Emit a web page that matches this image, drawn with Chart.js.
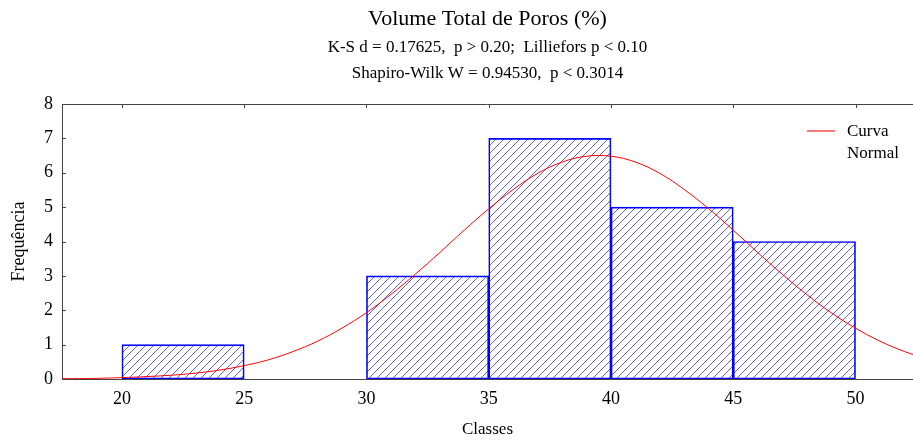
<!DOCTYPE html>
<html>
<head>
<meta charset="utf-8">
<style>
  html, body { margin: 0; padding: 0; background: #fff; }
  #wrap { width: 913px; height: 441px; }
</style>
<script src="https://cdn.jsdelivr.net/npm/chart.js@4/dist/chart.umd.min.js"></script>
</head>
<body>
<div id="wrap"><canvas id="c" width="913" height="441"></canvas></div>
<script>
// Histogram classes (bin centres, width 5) and observed counts
const binCenters = [22.5, 27.5, 32.5, 37.5, 42.5, 47.5];
const frequencies = [1, 0, 3, 7, 5, 4];

// Fitted normal curve, sampled at whole class values
const curveX = [17, 18, 19, 20, 21, 22, 23, 24, 25, 26, 27, 28, 29, 30, 31, 32, 33, 34, 35,
                36, 37, 38, 39, 40, 41, 42, 43, 44, 45, 46, 47, 48, 49, 50, 51, 52, 53];
const curveY = [0.01, 0.01, 0.02, 0.04, 0.07, 0.11, 0.17, 0.26, 0.39, 0.56, 0.80, 1.10, 1.48, 1.93, 2.46, 3.05, 3.68, 4.33, 4.95,
                5.51, 5.98, 6.31, 6.48, 6.48, 6.31, 5.98, 5.51, 4.95, 4.33, 3.68, 3.05, 2.46, 1.93, 1.48, 1.10, 0.80, 0.56];

// Axis ticks
const xTicks = [20, 25, 30, 35, 40, 45, 50];
const yTicks = [0, 1, 2, 3, 4, 5, 6, 7, 8];

// Text
const titleText = 'Volume Total de Poros (%)';
const subtitleLines = ['K-S d = 0.17625,  p > 0.20;  Lilliefors p < 0.10',
                       'Shapiro-Wilk W = 0.94530,  p < 0.3014'];
const legendLines = ['Curva', 'Normal'];
const xTitle = 'Classes';
const yTitle = 'Frequência';

const SERIF = '"Liberation Serif", "Times New Roman", serif';
const HATCH_STEP = 8;

// Diagonal hatching inside each histogram bar, drawn before the bar outlines
const hatching = {
  id: 'hatching',
  beforeDatasetDraw(chart, args) {
    if (args.meta.type !== 'bar') return;
    const ctx = chart.ctx;
    ctx.save();
    ctx.strokeStyle = '#6464ff';
    ctx.lineWidth = 1;
    args.meta.data.forEach(bar => {
      const p = bar.getProps(['x', 'y', 'base', 'width'], true);
      const left = p.x - p.width / 2, right = p.x + p.width / 2;
      const top = Math.min(p.y, p.base), bottom = Math.max(p.y, p.base);
      const h = bottom - top;
      if (h < 1) return;
      ctx.save();
      ctx.beginPath();
      ctx.rect(left, top, right - left, h);
      ctx.clip();
      ctx.beginPath();
      const start = Math.floor((left - h) / HATCH_STEP) * HATCH_STEP;
      for (let k = start; k <= right; k += HATCH_STEP) {
        ctx.moveTo(k, bottom);
        ctx.lineTo(k + h, top);
      }
      ctx.stroke();
      ctx.restore();
    });
    ctx.restore();
  }
};

// Title block, legend, top frame line and inner tick marks
const decorations = {
  id: 'decorations',
  afterDraw(chart) {
    const { ctx, chartArea: a, scales } = chart;
    const cx = (a.left + a.right) / 2;
    ctx.save();
    ctx.fillStyle = '#000';
    ctx.textAlign = 'center';
    ctx.textBaseline = 'middle';
    ctx.font = '22px ' + SERIF;
    ctx.fillText(titleText, cx, 19);
    ctx.font = '17px ' + SERIF;
    ctx.fillText(subtitleLines[0], cx, 48);
    ctx.fillText(subtitleLines[1], cx, 74);

    // frame top line
    ctx.strokeStyle = '#444';
    ctx.lineWidth = 1;
    ctx.beginPath();
    ctx.moveTo(a.left, a.top + 0.5);
    ctx.lineTo(a.right, a.top + 0.5);
    // inner ticks on the y axis
    yTicks.forEach(v => {
      const y = Math.round(scales.y.getPixelForValue(v)) + 0.5;
      ctx.moveTo(a.left, y);
      ctx.lineTo(a.left + 4, y);
    });
    // inner ticks along the top edge
    xTicks.forEach(v => {
      const x = Math.round(scales.x.getPixelForValue(v)) + 0.5;
      ctx.moveTo(x, a.top);
      ctx.lineTo(x, a.top + 4);
    });
    ctx.stroke();

    // legend
    ctx.strokeStyle = '#ff2020';
    ctx.lineWidth = 1.2;
    ctx.beginPath();
    ctx.moveTo(807, 131);
    ctx.lineTo(835, 131);
    ctx.stroke();
    ctx.textAlign = 'left';
    ctx.font = '17px ' + SERIF;
    ctx.fillText(legendLines[0], 847, 132);
    ctx.fillText(legendLines[1], 847, 154);
    ctx.restore();
  }
};

const tickFont = { family: SERIF, size: 18 };

new Chart(document.getElementById('c'), {
  type: 'bar',
  data: {
    datasets: [
      {
        type: 'line',
        label: 'Curva Normal',
        data: curveX.map((x, i) => ({ x, y: curveY[i] })),
        borderColor: '#ff0000',
        borderWidth: 1,
        pointRadius: 0,
        tension: 0.4,
        fill: false,
        order: 1
      },
      {
        label: 'Frequência',
        data: binCenters.map((x, i) => ({ x, y: frequencies[i] })),
        backgroundColor: 'rgba(255,255,255,0)',
        borderColor: '#0000ff',
        borderWidth: 1,
        borderSkipped: false,
        barPercentage: 1,
        categoryPercentage: 1,
        order: 2
      }
    ]
  },
  options: {
    responsive: false,
    animation: false,
    layout: { padding: { top: 104, right: 0, left: 0, bottom: 0 } },
    plugins: {
      legend: { display: false },
      title: { display: false },
      tooltip: { enabled: false }
    },
    scales: {
      x: {
        type: 'linear',
        offset: false,
        min: 17.55,
        max: 52.35,
        afterBuildTicks: s => { s.ticks = xTicks.map(v => ({ value: v })); },
        afterFit: s => { s.height = 62; },
        grid: { display: false, drawTicks: false, offset: false },
        border: { display: true, color: '#444', width: 1 },
        ticks: { font: tickFont, color: '#000', padding: 9, maxRotation: 0 },
        title: { display: true, text: xTitle, color: '#000', font: { family: SERIF, size: 17 }, padding: { top: 0, bottom: 1 } }
      },
      y: {
        min: 0,
        max: 8,
        afterBuildTicks: s => { s.ticks = yTicks.map(v => ({ value: v })); },
        afterFit: s => { s.width = 62; },
        grid: { display: false, drawTicks: false },
        border: { display: true, color: '#444', width: 1 },
        ticks: { font: tickFont, color: '#000', padding: 9 },
        title: { display: true, text: yTitle, color: '#000', font: { family: SERIF, size: 18 }, padding: { top: 8, bottom: 0 } }
      }
    }
  },
  plugins: [hatching, decorations]
});
</script>
</body>
</html>
